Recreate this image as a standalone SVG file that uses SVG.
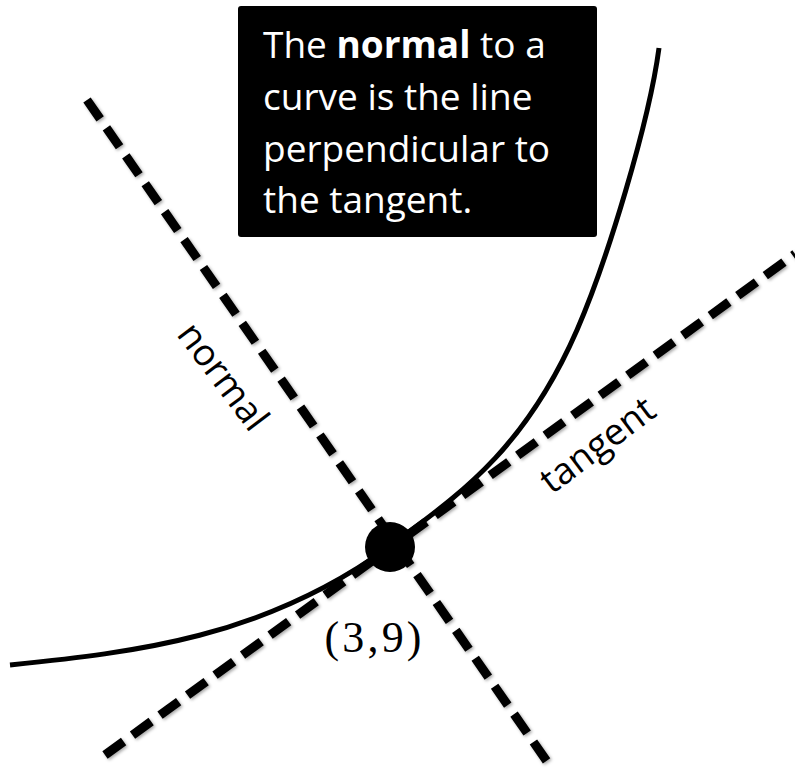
<svg xmlns="http://www.w3.org/2000/svg" width="795" height="771" viewBox="0 0 795 771">
<defs>
<filter id="sh" x="-10%" y="-10%" width="120%" height="120%">
<feDropShadow dx="1.5" dy="1.5" stdDeviation="1.5" flood-color="#000" flood-opacity="0.35"/>
</filter>
<style>
.dash{fill:none;stroke:#000;stroke-width:9;stroke-dasharray:23 11;stroke-linecap:butt}
.curve{fill:none;stroke:#000;stroke-width:5}
.sans{font-family:"Open Sans","Liberation Sans",sans-serif;font-size:37px}
.box{font-family:"Open Sans","Liberation Sans",sans-serif;font-size:37px;fill:#fff}
.serif{font-family:"Liberation Serif","DejaVu Serif",serif;font-size:44px}
</style>
</defs>
<rect width="795" height="771" fill="#fff"/>
<g id="curve">
<path class="curve" d="M10,665 C136,652 263,638 389,547 C452,499 522,456 577,330 C607,261 649,123 659,48"/>
</g>
<g id="connectors" filter="url(#sh)">
<line id="normal-line" class="dash" x1="87" y1="100" x2="548" y2="763"/>
<line id="tangent-line" class="dash" x1="105" y1="755" x2="795" y2="254"/>
</g>
<g id="point">
<circle cx="390" cy="547" r="25" fill="#000"/>
<text class="serif" x="373" y="652" text-anchor="middle" textLength="97">(3,9)</text>
</g>
<g id="normal-label">
<text class="sans" transform="translate(221,378) rotate(53)" x="0" y="10" text-anchor="middle">normal</text>
</g>
<g id="tangent-label">
<text class="sans" transform="translate(599,447) rotate(-37)" x="0" y="10" text-anchor="middle">tangent</text>
</g>
<g id="note">
<rect x="238" y="6" width="359" height="231" rx="3" fill="#000"/>
<text class="box" x="263" y="58">The <tspan font-weight="bold">normal</tspan> to a</text>
<text class="box" x="263" y="110">curve is the line</text>
<text class="box" x="263" y="162">perpendicular to</text>
<text class="box" x="263" y="213">the tangent.</text>
</g>
</svg>
